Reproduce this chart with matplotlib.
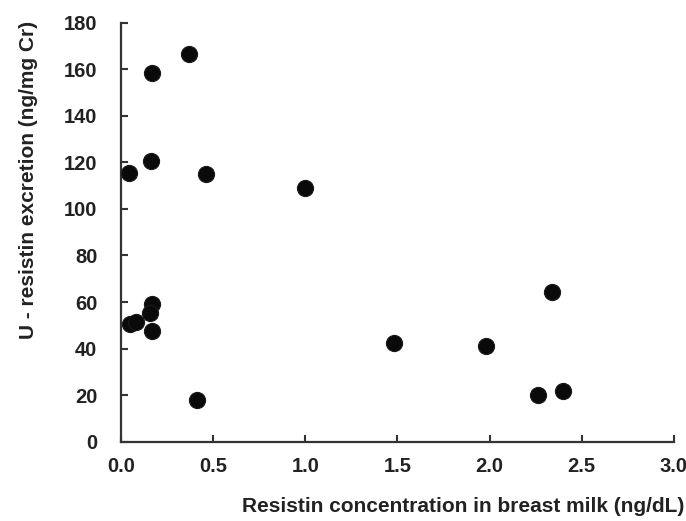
import matplotlib
matplotlib.use("Agg")
import matplotlib.pyplot as plt

milk_resistin = [0.37, 0.17, 0.165, 0.045, 0.46, 1.00,
                 0.17, 0.16, 0.17, 0.05, 0.08, 0.41,
                 1.48, 1.98, 2.34, 2.26, 2.40]
urine_resistin = [166.4, 158.2, 120.6, 115.6, 115.0, 108.8,
                  59.0, 55.1, 47.5, 50.6, 51.6, 17.9,
                  42.4, 41.0, 64.2, 20.2, 21.8]

x_ticks = [0.0, 0.5, 1.0, 1.5, 2.0, 2.5, 3.0]
y_ticks = [0, 20, 40, 60, 80, 100, 120, 140, 160, 180]

plt.rcParams["font.family"] = ["Liberation Sans", "DejaVu Sans"]
plt.rcParams["font.weight"] = "bold"

fig = plt.figure(figsize=(6.86, 5.21), dpi=100)
ax = fig.add_axes([0.1764, 0.1522, 0.806, 0.8042])

ax.scatter(milk_resistin, urine_resistin, s=135, color="#0a0a0a",
           edgecolors="#1a1a1a", linewidths=0.8, zorder=3, clip_on=False)

ax.set_xlim(0, 3.0)
ax.set_ylim(0, 180)
ax.set_xticks(x_ticks)
ax.set_yticks(y_ticks)
ax.set_xticklabels([f"{t:.1f}" for t in x_ticks])
ax.set_yticklabels([str(t) for t in y_ticks])

for side in ["top", "right"]:
    ax.spines[side].set_visible(False)
for side in ["left", "bottom"]:
    ax.spines[side].set_linewidth(1.6)
    ax.spines[side].set_color("#333333")

ax.tick_params(axis="both", direction="in", length=5, width=1.5,
               colors="#333333", labelcolor="#222222", labelsize=14.5)
ax.tick_params(axis="x", pad=11)
ax.tick_params(axis="y", pad=17)

ax.set_xlabel("Resistin concentration in breast milk (ng/dL)",
              fontsize=15, fontweight="bold", color="#222222")
ax.xaxis.set_label_coords(0.619, -0.133)
ax.set_ylabel("U - resistin excretion (ng/mg Cr)",
              fontsize=15, fontweight="bold", color="#222222")
ax.yaxis.set_label_coords(-0.150, 0.625)

fig.savefig("out.png", dpi=100)
plt.close(fig)
